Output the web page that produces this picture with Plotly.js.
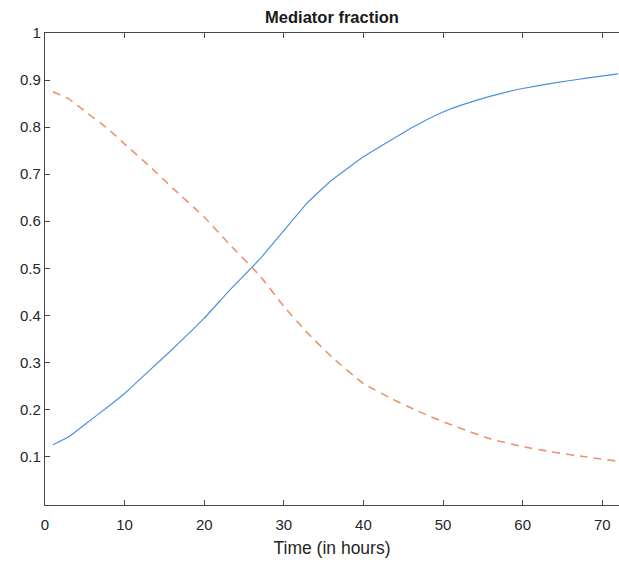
<!DOCTYPE html>
<html>
<head>
<meta charset="utf-8">
<script src="https://cdn.plot.ly/plotly-3.0.1.min.js"></script>
<style>
  html, body { margin: 0; padding: 0; background: #fff; }
  #chart { width: 619px; height: 563px; }
</style>
</head>
<body>
<div id="chart"></div>
<script>
// Time in hours
const hours = [1, 3, 5, 8, 10, 13, 16, 20, 23, 27, 30, 33, 36, 40, 44, 46, 48, 50, 52, 56, 60, 64, 68, 72];
// Fraction of mediator in the rising state
const risingFraction = [0.125, 0.142, 0.168, 0.207, 0.234, 0.281, 0.328, 0.394, 0.450, 0.520, 0.580, 0.640, 0.687, 0.737, 0.778, 0.798, 0.816, 0.832, 0.845, 0.866, 0.882, 0.894, 0.904, 0.913];
// Fraction of mediator in the declining state
const fallingFraction = [0.875, 0.860, 0.834, 0.795, 0.764, 0.719, 0.671, 0.609, 0.554, 0.484, 0.419, 0.362, 0.312, 0.255, 0.219, 0.203, 0.188, 0.174, 0.161, 0.137, 0.121, 0.109, 0.099, 0.090];

const xTicks = [0, 10, 20, 30, 40, 50, 60, 70];
const yTicks = [0.1, 0.2, 0.3, 0.4, 0.5, 0.6, 0.7, 0.8, 0.9, 1];
const yTickText = ['0.1', '0.2', '0.3', '0.4', '0.5', '0.6', '0.7', '0.8', '0.9', '1'];

const traces = [
  {
    x: hours, y: risingFraction, type: 'scatter', mode: 'lines',
    line: { color: '#4a90e2', width: 1.2, shape: 'spline', smoothing: 0.3 }
  },
  {
    x: hours, y: fallingFraction, type: 'scatter', mode: 'lines',
    line: { color: '#f0916a', width: 1.6, dash: '8px,6px', shape: 'spline', smoothing: 0.3 }
  }
];

const axisColor = '#4a4646';
const layout = {
  width: 619, height: 563,
  margin: { l: 45, r: 0, t: 33, b: 58 },
  paper_bgcolor: '#ffffff', plot_bgcolor: '#ffffff',
  showlegend: false,
  font: { family: 'Liberation Sans, Arial, sans-serif', size: 15, color: '#262626' },
  title: {
    text: '<b>Mediator fraction</b>',
    font: { size: 16.5, color: '#1a1a1a' },
    x: 0.5, xanchor: 'center', xref: 'paper',
    y: 1, yref: 'paper', yanchor: 'bottom', pad: { b: 10 }
  },
  xaxis: {
    range: [0, 72.1], tickvals: xTicks, ticktext: xTicks.map(String),
    showgrid: false, zeroline: false,
    showline: true, linecolor: axisColor, linewidth: 1.2, mirror: 'ticks',
    ticks: 'inside', ticklen: 5, tickcolor: axisColor, tickwidth: 1,
    ticklabelstandoff: 6,
    tickfont: { size: 15, color: '#262626' },
    title: { text: 'Time (in hours)', font: { size: 17.5, color: '#262626' }, standoff: 9 }
  },
  yaxis: {
    range: [-0.003, 1], tickvals: yTicks, ticktext: yTickText,
    showgrid: false, zeroline: false,
    showline: true, linecolor: axisColor, linewidth: 1.2,
    ticks: 'inside', ticklen: 5, tickcolor: axisColor, tickwidth: 1,
    tickfont: { size: 15, color: '#262626' }
  }
};

Plotly.newPlot('chart', traces, layout, { displayModeBar: false, staticPlot: true });
</script>
</body>
</html>
